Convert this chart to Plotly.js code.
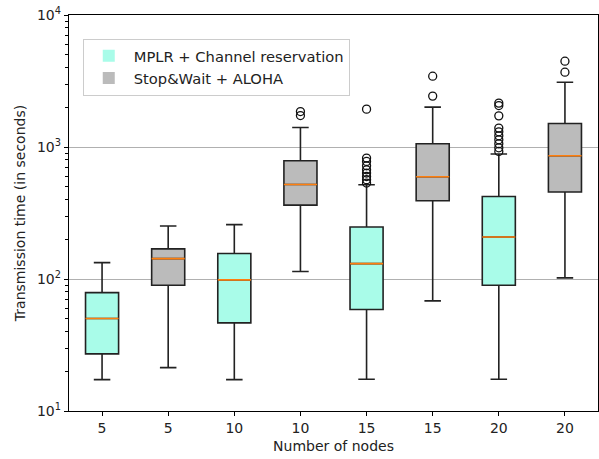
<!DOCTYPE html>
<html>
<head>
<meta charset="utf-8">
<script src="https://cdn.plot.ly/plotly-3.0.1.min.js"></script>
<style>html,body{margin:0;padding:0;background:#fff;}#chart{width:599px;height:459px;}</style>
</head>
<body>
<div id="chart"></div>
<script>
// Tick labels (number of nodes) for the 8 boxes
const tickLabels = ['5', '5', '10', '10', '15', '15', '20', '20'];
// y tick values and labels
const yTickVals = [10, 100, 1000, 10000];
const yTickText = ['10<sup>1</sup>', '10<sup>2</sup>', '10<sup>3</sup>', '10<sup>4</sup>'];

// MPLR + Channel reservation (boxes 1,3,5,7)
const mplrName = 'MPLR + Channel reservation';
const mplrLower = [17.3, 17.3, 17.4, 17.4];
const mplrQ1 = [27.1, 46.5, 58.7, 89.6];
const mplrMedian = [50.2, 98.4, 130.8, 208];
const mplrQ3 = [78.9, 156, 248, 422];
const mplrUpper = [133, 258, 518, 884];
const mplrOutliers = [
  [],
  [],
  [1935, 824, 777, 721, 672, 635, 598, 565, 533],
  [2150, 2060, 1722, 1390, 1303, 1216, 1134, 1057, 986, 925]
];

// Stop&Wait + ALOHA (boxes 2,4,6,8)
const swName = 'Stop&Wait + ALOHA';
const swLower = [21.3, 114, 68.3, 101.9];
const swQ1 = [89.6, 363, 392, 456];
const swMedian = [142.6, 520, 595, 858];
const swQ3 = [169, 786, 1057, 1506];
const swUpper = [252, 1404, 2004, 3097];
const swOutliers = [
  [],
  [1856, 1730],
  [3438, 2430],
  [4467, 3687]
];

const mplrColor = '#a9fce9';
const swColor = '#bbbbbb';

const positions = tickLabels.map((_, i) => i + 1);
const mplrPos = positions.filter((_, i) => i % 2 === 0);
const swPos = positions.filter((_, i) => i % 2 === 1);
const boxW = 0.5;

// minor log ticks 2..9 in each decade
const minorVals = [];
for (let d = 1; d < 4; d++) for (let k = 2; k <= 9; k++) minorVals.push(k * Math.pow(10, d));

function boxTrace(name, pos, lo, q1, med, q3, up, fill) {
  return {
    type: 'box', name: name, x: pos,
    q1: q1, median: med, q3: q3, lowerfence: lo, upperfence: up,
    width: boxW, whiskerwidth: 0.5,
    fillcolor: fill,
    line: {color: '#222222', width: 1.6},
    showlegend: false, hoverinfo: 'skip'
  };
}
function legendTrace(name, color) {
  return {
    type: 'bar', name: name, x: [null], y: [null],
    marker: {color: color, line: {width: 0}},
    showlegend: true, hoverinfo: 'skip'
  };
}
function outlierTrace(pos, outs) {
  const x = [], y = [];
  outs.forEach((arr, i) => arr.forEach(v => { x.push(pos[i]); y.push(v); }));
  return {
    type: 'scatter', mode: 'markers', x: x, y: y, showlegend: false, hoverinfo: 'skip',
    marker: {symbol: 'circle-open', size: 8, color: '#111111', line: {width: 1.3, color: '#111111'}}
  };
}
function medianTrace(pos, med) {
  const x = [], y = [];
  pos.forEach((p, i) => { x.push(p - boxW / 2, p + boxW / 2, null); y.push(med[i], med[i], null); });
  return {
    type: 'scatter', mode: 'lines', x: x, y: y, showlegend: false, hoverinfo: 'skip',
    line: {color: '#ff7f0e', width: 1.6}
  };
}

const data = [
  legendTrace(mplrName, mplrColor),
  legendTrace(swName, swColor),
  boxTrace(mplrName, mplrPos, mplrLower, mplrQ1, mplrMedian, mplrQ3, mplrUpper, mplrColor),
  boxTrace(swName, swPos, swLower, swQ1, swMedian, swQ3, swUpper, swColor),
  medianTrace(mplrPos, mplrMedian),
  medianTrace(swPos, swMedian),
  outlierTrace(mplrPos, mplrOutliers),
  outlierTrace(swPos, swOutliers)
];

const tf = {family: 'DejaVu Sans, sans-serif', size: 14, color: '#222222'};
const layout = {
  width: 599, height: 459,
  margin: {l: 69, r: 1, t: 15, b: 48},
  paper_bgcolor: '#ffffff', plot_bgcolor: '#ffffff',
  font: tf,
  showlegend: true,
  boxmode: 'overlay', barmode: 'overlay',
  legend: {
    x: 0.026, y: 0.94, xanchor: 'left', yanchor: 'top',
    bgcolor: 'rgba(255,255,255,0.8)', bordercolor: '#cccccc', borderwidth: 1,
    font: {family: 'DejaVu Sans, sans-serif', size: 14.7, color: '#222222'},
    itemwidth: 40
  },
  xaxis: {
    range: [0.5, 8.5],
    tickmode: 'array', tickvals: positions, ticktext: tickLabels,
    ticks: 'outside', ticklen: 4, tickwidth: 1, tickcolor: '#000',
    tickfont: tf,
    showline: true, linecolor: '#000', linewidth: 1.2, mirror: true,
    showgrid: false, zeroline: false,
    title: {text: 'Number of nodes', font: tf, standoff: 6}
  },
  yaxis: {
    type: 'log', range: [1, 4],
    tickmode: 'array', tickvals: yTickVals, ticktext: yTickText,
    ticks: 'outside', ticklen: 4, tickwidth: 1, tickcolor: '#000',
    tickfont: tf,
    minor: {tickmode: 'array', tickvals: minorVals, ticks: 'outside', ticklen: 3, tickwidth: 1, tickcolor: '#000000', showgrid: false},
    showline: true, linecolor: '#000', linewidth: 1.2, mirror: true,
    showgrid: true, gridcolor: '#b0b0b0', gridwidth: 1, zeroline: false,
    title: {text: 'Transmission time (in seconds)', font: tf, standoff: 8}
  }
};

Plotly.newPlot('chart', data, layout, {displayModeBar: false, staticPlot: true});
</script>
</body>
</html>
